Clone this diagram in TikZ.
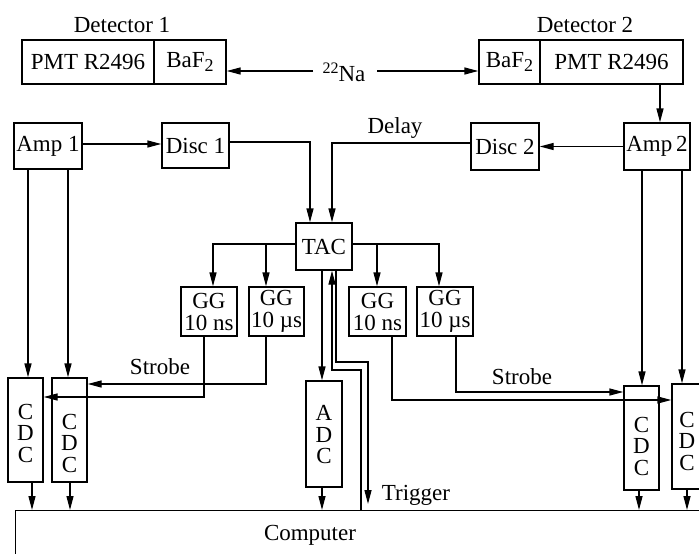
\documentclass[tikz,border=0pt]{standalone}
\usepackage{fontspec}
\setmainfont{Liberation Serif}
\usetikzlibrary{arrows.meta}
\newcommand{\subtwo}{\raisebox{-0.35ex}{\fontsize{18}{18}\selectfont 2}}
\newcommand{\supna}{\raisebox{0.75ex}{\fontsize{16}{16}\selectfont 22}}
\begin{document}
\begin{tikzpicture}[x=1pt,y=-1pt,line width=1.35pt,
  box/.style={draw,inner sep=0pt,align=center,font=\fontsize{23}{22}\selectfont},
  lbl/.style={inner sep=0pt,align=center,font=\fontsize{23}{21.5}\selectfont},
  arr/.style={-{Triangle[length=14pt,width=7pt]}}]
\useasboundingbox (0,0) rectangle (699,554);
\clip (0,0) rectangle (699,554);
% detectors
\node[box,minimum width=132pt,minimum height=44pt] (d1p) at (88,62) {PMT R2496};
\node[box,minimum width=72pt,minimum height=44pt] (d1b) at (190,62) {BaF\subtwo};
\node[box,minimum width=61pt,minimum height=44pt] (d2b) at (509.5,62) {BaF\subtwo};
\node[box,minimum width=143pt,minimum height=44pt] (d2p) at (611.5,62) {PMT R2496};
\node[lbl] (d1l) at (122,25) {Detector 1};
\node[lbl] (d2l) at (585,25) {Detector 2};
\node[lbl,anchor=base] (na) at (344,81) {\supna Na};
\coordinate (nal) at (313,71);
\coordinate (nar) at (377,71);
% modules
\node[box,minimum width=68pt,minimum height=46pt] (amp1) at (48,146) {Amp 1};
\node[box,minimum width=67pt,minimum height=45pt] (disc1) at (195.5,145.5) {Disc 1};
\node[box,minimum width=68pt,minimum height=47pt] (disc2) at (505,146.5) {Disc 2};
\node[box,minimum width=66pt,minimum height=47pt] (amp2) at (657,146.5) {Amp\,2};
\node[box,minimum width=56pt,minimum height=47pt] (tac) at (324,246.5) {TAC};
\node[box,minimum width=56pt,minimum height=49pt] (gg1) at (209,311.5) {GG\\10 ns};
\node[box,minimum width=55pt,minimum height=49pt] (gg2) at (276.5,311.5) {GG\\10 µs};
\node[box,minimum width=57pt,minimum height=49pt] (gg3) at (377.5,311.5) {GG\\10 ns};
\node[box,minimum width=56pt,minimum height=49pt] (gg4) at (445,311.5) {GG\\10 µs};
\node[box,minimum width=35pt,minimum height=104pt] (cdc1) at (25.5,430) {};
\node[box,minimum width=35pt,minimum height=104pt] (cdc2) at (69.5,430) {};
\node[box,minimum width=36pt,minimum height=106pt] (adc) at (324,434) {};
\node[box,minimum width=35pt,minimum height=104pt] (cdc3) at (641.5,438) {};
\node[box,minimum width=35pt,minimum height=105pt] (cdc4) at (689.5,436.5) {};
\node[lbl] (t1) at (25.5,433) {C\\D\\C};
\node[lbl] (t2) at (69.5,443) {C\\D\\C};
\node[lbl] (t3) at (324,435) {A\\D\\C};
\node[lbl] (t4) at (641.5,446) {C\\D\\C};
\node[lbl] (t5) at (687,441) {C\\D\\C};
\node[box,minimum width=720pt,minimum height=100pt,anchor=north west] (comp) at (15,510) {};
\node[lbl] (compt) at (310,535) {Computer};
% labels
\node[lbl] (delay) at (395,128) {Delay};
\node[lbl] (strobe1) at (160,367) {Strobe};
\node[lbl] (strobe2) at (522,377) {Strobe};
\node[lbl] (trigl) at (416,495) {Trigger};
% connectors
\draw[arr] (nal) -- (nal -| d1b.east);
\draw[arr] (nar) -- (nar -| d2b.west);
\draw[arr] (d2p.south -| 660,0) -- (amp2.north -| 660,0);
\draw[arr] (amp1.east |- 0,144) -- (disc1.west |- 0,144);
\draw[arr] (amp2.west) -- (disc2.east);
\draw[arr] (disc1.east |- 0,142) -| (tac.north -| 310,0);
\draw[arr] (disc2.west |- 0,143) -| (tac.north -| 332,0);
\draw[arr] (tac.west |- 0,244) -| (gg1.north -| 213,0);
\draw[arr] (tac.west |- 0,244) -| (gg2.north -| 266,0);
\draw[arr] (tac.east |- 0,244) -| (gg3.north -| 377,0);
\draw[arr] (tac.east |- 0,244) -| (gg4.north -| 439,0);
\draw[arr] (tac.south -| 322,0) -- (adc.north -| 322,0);
\draw[arr] (comp.north -| 361,0) |- (332,370) -- (tac.south -| 332,0);
\coordinate (trig) at (368,504);
\draw[arr] (tac.south -| 336,0) |- (368,362) -- (trig);
\draw[arr] (amp1.south -| 28,0) -- (cdc1.north -| 28,0);
\draw[arr] (amp1.south -| 68,0) -- (cdc2.north -| 68,0);
\draw[arr] (amp2.south -| 642,0) -- (cdc3.north -| 642,0);
\draw[arr] (amp2.south -| 682,0) -- (cdc4.north -| 682,0);
\draw[arr] (gg1.south -| 204,0) |- (cdc1.east |- 0,397);
\draw[arr] (gg2.south -| 266,0) |- (cdc2.east |- 0,384);
\draw[arr] (gg3.south -| 392,0) |- (cdc4.west |- 0,400);
\draw[arr] (gg4.south -| 456,0) |- (cdc3.west |- 0,392);
\draw[arr] (cdc1.south -| 32,0) -- (comp.north -| 32,0);
\draw[arr] (cdc2.south -| 70,0) -- (comp.north -| 70,0);
\draw[arr] (adc.south -| 322,0) -- (comp.north -| 322,0);
\draw[arr] (cdc3.south -| 639,0) -- (comp.north -| 639,0);
\draw[arr] (cdc4.south -| 687,0) -- (comp.north -| 687,0);
\end{tikzpicture}
\end{document}
